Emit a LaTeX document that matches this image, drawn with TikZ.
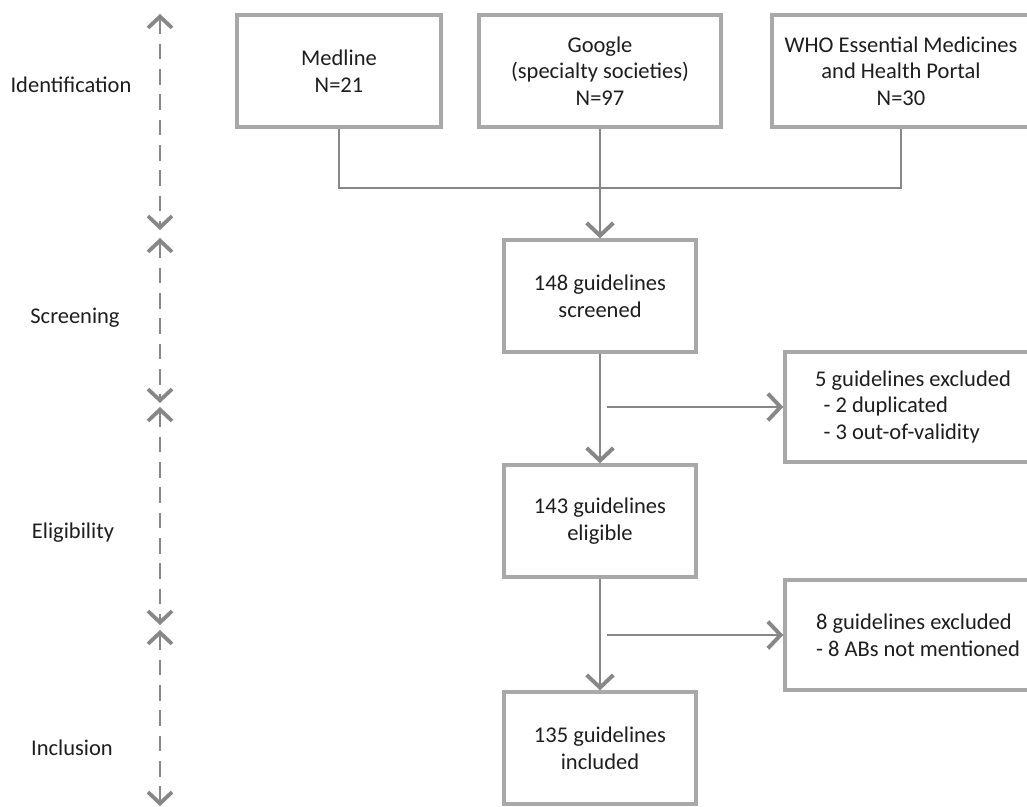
\documentclass[tikz,border=0pt]{standalone}
\usepackage{fontspec}
\setmainfont{Carlito}
\usetikzlibrary{arrows.meta}
\definecolor{boxgray}{RGB}{168,168,168}
\definecolor{arrgray}{RGB}{135,135,135}
\definecolor{txtgray}{RGB}{30,30,30}
\tikzset{
  stagebox/.style={draw=boxgray, line width=2.4pt, fill=white, inner sep=0pt, align=center,
    text=txtgray, font=\fontsize{16}{19}\selectfont},
  flowarr/.style={draw=arrgray, line width=1.8pt, -{Straight Barb[length=9pt, width=19pt, line width=2.8pt]}},
  phasearr/.style={draw=arrgray, line width=1.9pt, dash pattern=on 11pt off 7pt,
    {Straight Barb[length=8pt, width=17pt, line width=2.7pt]}-{Straight Barb[length=8pt, width=17pt, line width=2.7pt]}},
  phaselabel/.style={text=txtgray, font=\fontsize{16}{19}\selectfont}
}
\begin{document}
\begin{tikzpicture}[x=0.025cm, y=-0.025cm]
        \useasboundingbox (0,0) rectangle (1027,807);

        % sources
        \node[stagebox, minimum width=5.1cm, minimum height=2.8cm] (med) at (339,71) {Medline\\N=21};
        \node[stagebox, minimum width=6.05cm, minimum height=2.8cm] (goo) at (600,71) {Google\\(specialty societies)\\N=97};
        \node[stagebox, minimum width=6.45cm, minimum height=2.8cm] (who) at (901,71) {WHO Essential Medicines\\and Health Portal\\N=30};

        % main flow
        \node[stagebox, minimum width=4.8cm, minimum height=2.8cm] (scr) at (600,296) {148 guidelines\\screened};
        \node[stagebox, minimum width=4.8cm, minimum height=2.8cm] (eli) at (600,521) {143 guidelines\\eligible};
        \node[stagebox, minimum width=4.8cm, minimum height=2.8cm] (inc) at (600,748) {135 guidelines\\included};

        % exclusions
        \node[stagebox, minimum width=6.4cm, minimum height=2.75cm, align=left] (exa) at (913,407)
          {5 guidelines excluded\\\hspace*{6pt}- 2 duplicated\\\hspace*{6pt}- 3 out-of-validity};
        \node[stagebox, minimum width=6.65cm, minimum height=2.75cm, align=left] (exb) at (918,635)
          {8 guidelines excluded\\- 8 ABs not mentioned};

        \coordinate (join) at (600,188);
        \coordinate (bra) at (607,407);
        \coordinate (brb) at (607,635);

        \begin{scope}[draw=arrgray, line width=1.8pt]
        \draw (med.south) |- (join) -| (who.south);
        \draw (goo.south) -- (join);
        \end{scope}

        \begin{scope}[flowarr]
        \draw (join) -- (scr.north);
        \draw (scr.south) -- (eli.north);
        \draw (eli.south) -- (inc.north);
        \draw (bra) -- (exa.west);
        \draw (brb) -- (exb.west);
        \end{scope}

        % phases
        \node[phaselabel] (idl) at (71,85) {Identification};
        \node[phaselabel] (scl) at (75,318) {Screening};
        \node[phaselabel] (ell) at (73,533) {Eligibility};
        \node[phaselabel] (inl) at (72,748) {Inclusion};

        \coordinate (p0) at (160,14);
        \coordinate (p1) at (160,230);
        \coordinate (p2) at (160,238);
        \coordinate (p3) at (160,403);
        \coordinate (p4) at (160,407);
        \coordinate (p5) at (160,625);
        \coordinate (p6) at (160,630);
        \coordinate (p7) at (160,806);

        \begin{scope}[phasearr]
        \draw (p0) -- (p1);
        \draw (p2) -- (p3);
        \draw (p4) -- (p5);
        \draw (p6) -- (p7);
        \end{scope}

        \end{tikzpicture}
\end{document}
